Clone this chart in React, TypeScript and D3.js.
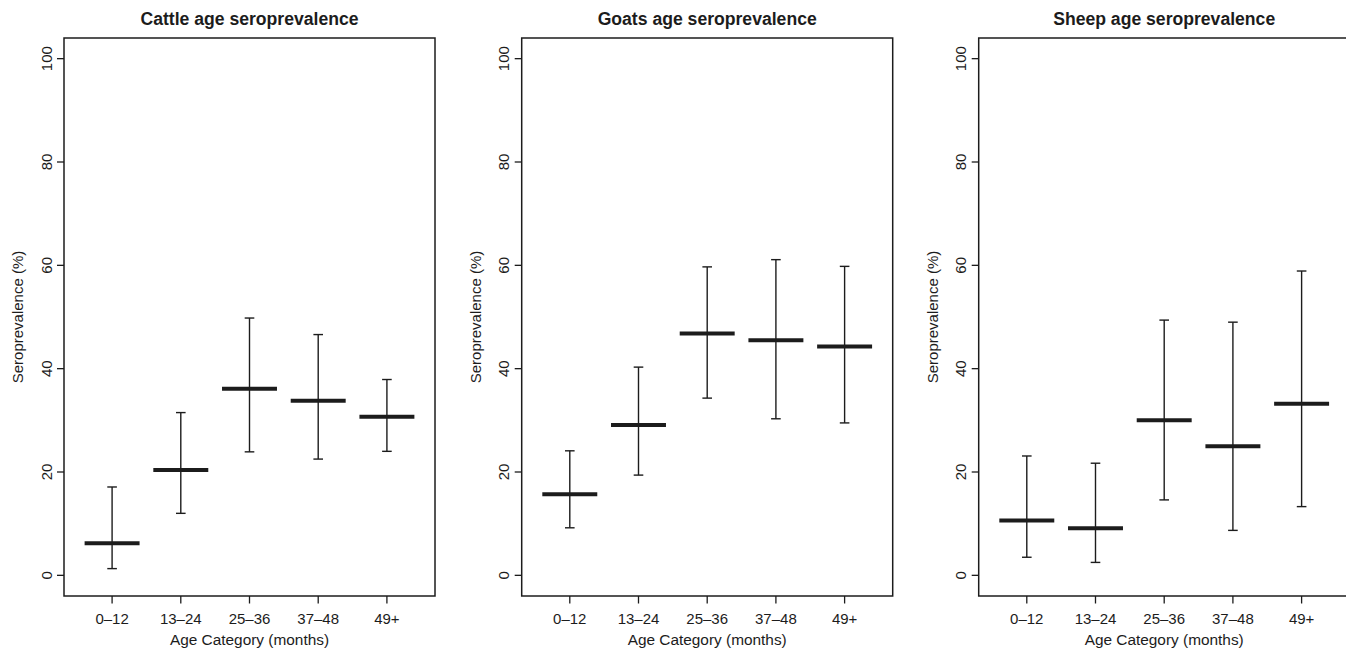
import React from "react";
import * as d3 from "d3";

const categories = ["0\u201312", "13\u201324", "25\u201336", "37\u201348", "49+"];
const panelTitles = ["Cattle age seroprevalence", "Goats age seroprevalence", "Sheep age seroprevalence"];

const cattleMean = [6.2, 20.4, 36.1, 33.8, 30.7];
const cattleLower = [1.3, 12.0, 23.9, 22.5, 24.0];
const cattleUpper = [17.1, 31.5, 49.8, 46.6, 37.9];

const goatsMean = [15.7, 29.1, 46.8, 45.5, 44.3];
const goatsLower = [9.2, 19.4, 34.3, 30.3, 29.5];
const goatsUpper = [24.1, 40.3, 59.7, 61.1, 59.8];

const sheepMean = [10.6, 9.1, 30.0, 25.0, 33.2];
const sheepLower = [3.5, 2.5, 14.6, 8.7, 13.3];
const sheepUpper = [23.1, 21.7, 49.4, 49.0, 58.9];

const yTicks = [0, 20, 40, 60, 80, 100];

const panels = [
  { title: panelTitles[0], mean: cattleMean, lower: cattleLower, upper: cattleUpper },
  { title: panelTitles[1], mean: goatsMean, lower: goatsLower, upper: goatsUpper },
  { title: panelTitles[2], mean: sheepMean, lower: sheepLower, upper: sheepUpper },
];

const W = 1346;
const H = 650;
const panelLefts = [64, 521.7, 978.7];
const boxW = 371;
const boxTop = 38;
const boxBottom = 596;
const ink = "#1c1c1c";
const font = "'Liberation Sans', Arial, Helvetica, sans-serif";

function Panel({ p, left }: { p: any; left: number }) {
  const x = d3.scaleLinear().domain([0.3, 5.7]).range([left, left + boxW]);
  const y = d3.scaleLinear().domain([-4, 104]).range([boxBottom, boxTop]);
  const idx = categories.map((_, i) => i + 1);
  return (
    <g>
      <text
        x={left + boxW / 2}
        y={25}
        textAnchor="middle"
        fontWeight="bold"
        fontSize={17.6}
        fill={ink}
        fontFamily={font}
      >
        {p.title}
      </text>
      <rect x={left} y={boxTop} width={boxW} height={boxBottom - boxTop} fill="none" stroke={ink} strokeWidth={1.5} />
      {yTicks.map((t) => (
        <g key={t}>
          <line x1={left - 7} x2={left} y1={y(t)} y2={y(t)} stroke={ink} strokeWidth={1.3} />
          <text
            transform={`translate(${left - 12.5},${y(t)}) rotate(-90)`}
            textAnchor="middle"
            fontSize={15}
            fill={ink}
            fontFamily={font}
          >
            {t}
          </text>
        </g>
      ))}
      <text
        transform={`translate(${left - 41},${(boxTop + boxBottom) / 2}) rotate(-90)`}
        textAnchor="middle"
        fontSize={15}
        fill={ink}
        fontFamily={font}
      >
        Seroprevalence (%)
      </text>
      {idx.map((v, i) => (
        <g key={v}>
          <line x1={x(v)} x2={x(v)} y1={boxBottom} y2={boxBottom + 7.5} stroke={ink} strokeWidth={1.3} />
          <text x={x(v)} y={623.5} textAnchor="middle" fontSize={15} fill={ink} fontFamily={font}>
            {categories[i]}
          </text>
        </g>
      ))}
      <text x={left + boxW / 2} y={644.5} textAnchor="middle" fontSize={15.4} fill={ink} fontFamily={font}>
        Age Category (months)
      </text>
      {idx.map((v, i) => (
        <g key={"e" + v}>
          <line x1={x(v)} x2={x(v)} y1={y(p.lower[i])} y2={y(p.upper[i])} stroke={ink} strokeWidth={1.4} />
          <line x1={x(v - 0.07)} x2={x(v + 0.07)} y1={y(p.lower[i])} y2={y(p.lower[i])} stroke={ink} strokeWidth={1.4} />
          <line x1={x(v - 0.07)} x2={x(v + 0.07)} y1={y(p.upper[i])} y2={y(p.upper[i])} stroke={ink} strokeWidth={1.4} />
          <line x1={x(v - 0.4)} x2={x(v + 0.4)} y1={y(p.mean[i])} y2={y(p.mean[i])} stroke={ink} strokeWidth={4} />
        </g>
      ))}
    </g>
  );
}

export default function App() {
  return (
    <svg
      width={W}
      height={H}
      style={{ position: "absolute", left: 0, top: 0, background: "#fff" }}
    >
      <rect x={0} y={0} width={W} height={H} fill="#fff" />
      {panels.map((p, i) => (
        <Panel key={i} p={p} left={panelLefts[i]} />
      ))}
    </svg>
  );
}
